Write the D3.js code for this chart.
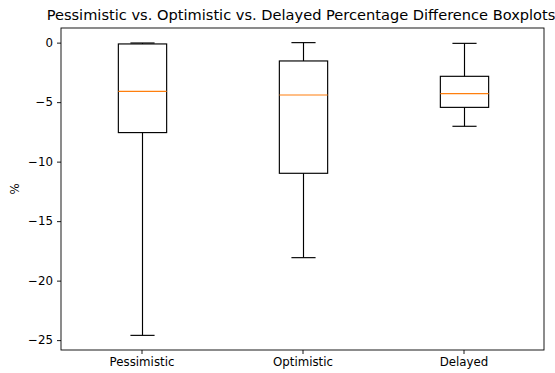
<!DOCTYPE html>
<html><head><meta charset="utf-8">
<script src="https://cdn.jsdelivr.net/npm/d3@7"></script>
<style>body{margin:0;background:#fff}svg{display:block}text{font-family:"DejaVu Sans",sans-serif;fill:#000}</style>
</head><body><svg id="c" width="555" height="373"></svg>
<script>
const categories = ["Pessimistic", "Optimistic", "Delayed"];
const whiskerHigh = [-0.03, 0.0, -0.06];
const q3 = [-0.11, -1.54, -2.83];
const medians = [-4.09, -4.4, -4.29];
const q1 = [-7.56, -10.98, -5.44];
const whiskerLow = [-24.6, -18.07, -7.03];
const yTicks = [0, -5, -10, -15, -20, -25];
const title = "Pessimistic vs. Optimistic vs. Delayed Percentage Difference Boxplots";
const yLabel = "%";

const svg = d3.select("#c");
const L = 61, R = 544, T = 28, B = 350;
const x = d3.scaleLinear().domain([0.5, 3.5]).range([L, R]);
const y = d3.scaleLinear().domain([-25.83, 1.23]).range([B, T]);
const boxW = x(0.3) - x(0), capW = x(0.15) - x(0);
const fmt = d => d < 0 ? "\u2212" + Math.abs(d) : String(d);

const g = svg.append("g");
categories.forEach((c, i) => {
  const cx = Math.round(x(i + 1)) + 0.5;
  const line = (x1, y1, x2, y2, col) => g.append("line").attr("x1", x1).attr("y1", y1).attr("x2", x2).attr("y2", y2)
    .attr("stroke", col || "#000").attr("stroke-width", 1.15);
  line(cx, y(q1[i]), cx, y(whiskerLow[i]));
  line(cx, y(q3[i]), cx, y(whiskerHigh[i]));
  line(cx - capW / 2, y(whiskerLow[i]), cx + capW / 2, y(whiskerLow[i]));
  line(cx - capW / 2, y(whiskerHigh[i]), cx + capW / 2, y(whiskerHigh[i]));
  g.append("rect").attr("x", cx - boxW / 2).attr("y", y(q3[i])).attr("width", boxW)
    .attr("height", y(q1[i]) - y(q3[i])).attr("fill", "none").attr("stroke", "#000").attr("stroke-width", 1.15);
  line(cx - boxW / 2, y(medians[i]), cx + boxW / 2, y(medians[i]), "#ff7f0e");
});

const yAxis = svg.append("g").attr("transform", `translate(${L},0)`)
  .call(d3.axisLeft(y).tickValues(yTicks).tickFormat(fmt).tickSize(4).tickPadding(4));
yAxis.select(".domain").remove();
yAxis.selectAll("text").style("font-size", "11.8px").style("font-family", "DejaVu Sans");
yAxis.selectAll("line").attr("stroke", "#000").attr("stroke-width", 0.9);

const xAxis = svg.append("g").attr("transform", `translate(0,${B})`)
  .call(d3.axisBottom(x).tickValues([1, 2, 3]).tickFormat((d) => categories[d - 1]).tickSize(4).tickPadding(4));
xAxis.select(".domain").remove();
xAxis.selectAll("text").style("font-size", "11.8px").style("font-family", "DejaVu Sans");
xAxis.selectAll("line").attr("stroke", "#000").attr("stroke-width", 0.9);

svg.append("rect").attr("x", L).attr("y", T).attr("width", R - L).attr("height", B - T)
  .attr("fill", "none").attr("stroke", "#000").attr("stroke-width", 0.9);

svg.append("text").attr("x", 301).attr("y", 19.5).attr("text-anchor", "middle")
  .style("font-size", "14.6px").text(title);
svg.append("text").attr("transform", `translate(19,${(T + B) / 2}) rotate(-90)`).attr("text-anchor", "middle")
  .style("font-size", "11.8px").text(yLabel);
</script></body></html>
